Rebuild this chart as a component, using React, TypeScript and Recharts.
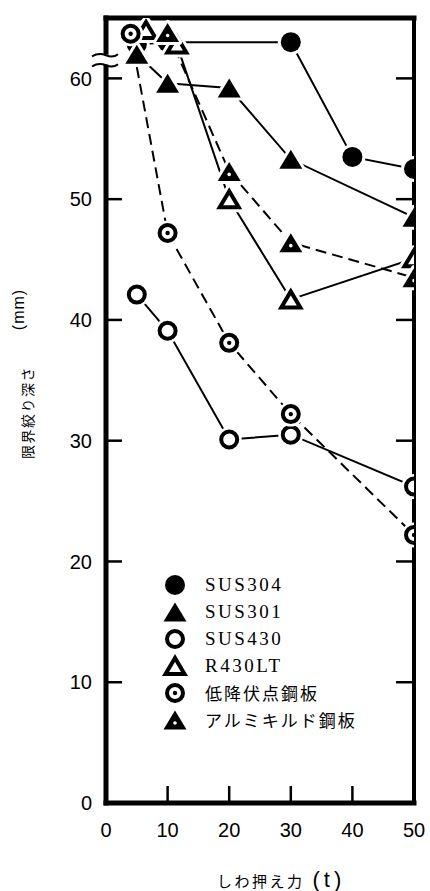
import React from 'react'
import { LineChart, Line, XAxis, YAxis, Legend, ReferenceDot } from 'recharts'

// しわ押え力 (t) vs 限界絞り深さ (mm)
const sus304 = [
  { t: 5, d: 62.8 }, { t: 10, d: 63.0 }, { t: 30, d: 63.0 }, { t: 40, d: 53.5 }, { t: 50, d: 52.5 }
]
const sus301 = [
  { t: 5, d: 62.0 }, { t: 10, d: 59.6 }, { t: 20, d: 59.2 }, { t: 30, d: 53.3 }, { t: 50, d: 48.5 }
]
const sus430 = [
  { t: 5, d: 42.1 }, { t: 10, d: 39.1 }, { t: 20, d: 30.1 }, { t: 30, d: 30.5 }, { t: 50, d: 26.2 }
]
const r430lt = [
  { t: 6.5, d: 64.0 }, { t: 11.5, d: 62.8 }, { t: 20, d: 50.0 }, { t: 30, d: 41.7 }, { t: 50, d: 45.1 }
]
const lowYield = [
  { t: 4, d: 63.7 }, { t: 10, d: 47.2 }, { t: 20, d: 38.1 }, { t: 30, d: 32.2 }, { t: 50, d: 22.2 }
]
const alKilled = [
  { t: 10, d: 63.8 }, { t: 20, d: 52.3 }, { t: 30, d: 46.4 }, { t: 50, d: 43.5 }
]

const xTicks = [0, 10, 20, 30, 40, 50]
const yTicks = [0, 10, 20, 30, 40, 50, 60]
const innerXTicks = [10, 20, 30, 40]
const innerYTicks = [10, 20, 30, 40, 50, 60]

type Kind = 'disc' | 'tri' | 'ring' | 'otri' | 'dring' | 'dtri'

const series: { name: string; data: { t: number; d: number }[]; kind: Kind; dashed: boolean; jp: boolean }[] = [
  { name: 'SUS304', data: sus304, kind: 'disc', dashed: false, jp: false },
  { name: 'SUS301', data: sus301, kind: 'tri', dashed: false, jp: false },
  { name: 'SUS430', data: sus430, kind: 'ring', dashed: false, jp: false },
  { name: 'R430LT', data: r430lt, kind: 'otri', dashed: false, jp: false },
  { name: '低降伏点鋼板', data: lowYield, kind: 'dring', dashed: true, jp: true },
  { name: 'アルミキルド鋼板', data: alKilled, kind: 'dtri', dashed: true, jp: true }
]

const triPts = (cx: number, cy: number, w: number, h: number) =>
  `${cx},${cy - h / 2} ${cx - w / 2},${cy + h / 2} ${cx + w / 2},${cy + h / 2}`

const Marker = ({ kind, cx, cy }: { kind: Kind; cx?: number; cy?: number }) => {
  if (cx == null || cy == null) return null
  switch (kind) {
    case 'disc':
      return (
        <g>
          <circle cx={cx} cy={cy} r={13} fill="#fff" />
          <circle cx={cx} cy={cy} r={10} fill="#000" />
        </g>
      )
    case 'tri':
    case 'dtri':
      return (
        <g>
          <polygon points={triPts(cx, cy, 23, 19)} fill="#fff" stroke="#fff" strokeWidth={6} strokeLinejoin="round" />
          <polygon points={triPts(cx, cy, 23, 19)} fill="#000" />
          {kind === 'dtri' && <circle cx={cx} cy={cy + 3} r={1.8} fill="#fff" />}
        </g>
      )
    case 'otri':
      return (
        <g>
          <polygon points={triPts(cx, cy, 19, 16)} fill="#fff" stroke="#fff" strokeWidth={10} strokeLinejoin="round" />
          <polygon points={triPts(cx, cy, 19, 16)} fill="#fff" stroke="#000" strokeWidth={4} />
        </g>
      )
    case 'ring':
    case 'dring':
      return (
        <g>
          <circle cx={cx} cy={cy} r={12.5} fill="#fff" />
          <circle cx={cx} cy={cy} r={8} fill="#fff" stroke="#000" strokeWidth={4} />
          {kind === 'dring' && <circle cx={cx} cy={cy} r={2.2} fill="#000" />}
        </g>
      )
  }
  return null
}

// axis break on the left axis
const BreakMark = ({ cx, cy }: any) => {
  if (cx == null || cy == null) return null
  return (
    <g>
      <path d={`M${cx - 14},${cy - 5} L${cx + 12},${cy - 6} L${cx + 12},${cy + 4} L${cx - 14},${cy + 5} Z`} fill="#fff" />
      <path d={`M${cx - 14},${cy - 4} Q${cx - 7},${cy - 8} ${cx},${cy - 5} T${cx + 12},${cy - 6}`} stroke="#000" strokeWidth={2} fill="none" />
      <path d={`M${cx - 14},${cy + 6} Q${cx - 7},${cy + 2} ${cx},${cy + 5} T${cx + 12},${cy + 4}`} stroke="#000" strokeWidth={2} fill="none" />
    </g>
  )
}

// tick renderers: inward tick marks + labels
const TICK_W = 2.5
const BOTTOM_GAP = 20
const LEFT_GAP = 14

const BottomTick = (p: any) => {
  const v = p.payload?.value
  return (
    <g>
      {v > 0 && v < 50 && (
        <line x1={p.x} x2={p.x} y1={p.y - BOTTOM_GAP} y2={p.y - BOTTOM_GAP - 17} stroke="#000" strokeWidth={TICK_W} />
      )}
      <text x={p.x} y={p.y} dy="0.71em" textAnchor="middle" fill="#000" fontSize={20} fontFamily="Liberation Sans">
        {v}
      </text>
    </g>
  )
}

const LeftTick = (p: any) => {
  const v = p.payload?.value
  return (
    <g>
      {v > 0 && (
        <line x1={p.x + LEFT_GAP} x2={p.x + LEFT_GAP + 16} y1={p.y} y2={p.y} stroke="#000" strokeWidth={TICK_W} />
      )}
      <text x={p.x} y={p.y} dy="0.36em" textAnchor="end" fill="#000" fontSize={20} fontFamily="Liberation Sans">
        {v}
      </text>
    </g>
  )
}

const TopTick = (p: any) => (
  <line x1={p.x} x2={p.x} y1={p.y} y2={p.y + 17} stroke="#000" strokeWidth={TICK_W} />
)

const RightTick = (p: any) => (
  <line x1={p.x - 18} x2={p.x} y1={p.y} y2={p.y} stroke="#000" strokeWidth={TICK_W} />
)

const YTitle = (props: any) => {
  const vb = props.viewBox || { x: 0, y: 18, width: 106, height: 785 }
  const mid = vb.y + vb.height / 2
  const jy = mid + 2
  const my = mid - 101
  return (
    <g>
      <text x={vb.x + 27} y={jy} transform={`rotate(-90 ${vb.x + 27} ${jy})`} textAnchor="middle"
        dominantBaseline="central" fontFamily="Noto Sans CJK JP" fontSize={14} letterSpacing={1.5} fill="#000">
        限界絞り深さ
      </text>
      <text x={vb.x + 18} y={my} transform={`rotate(-90 ${vb.x + 18} ${my})`} textAnchor="middle"
        dominantBaseline="central" fontFamily="Liberation Sans" fontSize={16} letterSpacing={1} fill="#000">
        (mm)
      </text>
    </g>
  )
}

const XTitle = (props: any) => {
  const vb = props.viewBox || { x: 106, y: 803, width: 308, height: 88 }
  return (
    <text x={vb.x + vb.width / 2 - 43} y={vb.y + 84} fill="#000">
      <tspan fontFamily="Noto Sans CJK JP" fontSize={15} letterSpacing={2.5}>しわ押え力</tspan>
      <tspan dx={8} fontFamily="Liberation Sans" fontSize={22} letterSpacing={4}>(t)</tspan>
    </text>
  )
}

const renderLegend = () => (
  <div>
    {series.map(s => (
      <div key={s.name} style={{ display: 'flex', alignItems: 'center', height: 27 }}>
        <svg width={26} height={26}>
          <Marker kind={s.kind} cx={13} cy={13} />
        </svg>
        <span
          style={{
            marginLeft: 17,
            fontFamily: s.jp ? 'Noto Sans CJK JP' : 'Liberation Serif',
            fontSize: s.jp ? 17 : 19,
            letterSpacing: s.jp ? 2 : 2.5,
            color: '#000',
            lineHeight: '27px'
          }}
        >
          {s.name}
        </span>
      </div>
    ))}
  </div>
)

const axisLine = { stroke: '#000', strokeWidth: 5, strokeLinecap: 'square' as const }

export default function App() {
  return (
    <div style={{ position: 'absolute', left: 0, top: 0, width: 430, height: 891, background: '#fff' }}>
      <LineChart width={430} height={891} margin={{ top: 8, right: 0, bottom: 0, left: 0 }}>
        <XAxis
          dataKey="t"
          type="number"
          domain={[0, 50]}
          ticks={xTicks}
          allowDataOverflow
          height={88}
          axisLine={axisLine}
          tickLine={false}
          tickSize={0}
          tickMargin={BOTTOM_GAP}
          tick={BottomTick}
          label={XTitle}
        />
        <XAxis
          xAxisId="top"
          orientation="top"
          type="number"
          domain={[0, 50]}
          ticks={innerXTicks}
          allowDataOverflow
          height={10}
          axisLine={axisLine}
          tickLine={false}
          tickSize={0}
          tickMargin={0}
          tick={TopTick}
        />
        <YAxis
          type="number"
          domain={[0, 65]}
          ticks={yTicks}
          allowDataOverflow
          width={106}
          axisLine={axisLine}
          tickLine={false}
          tickSize={0}
          tickMargin={LEFT_GAP}
          tick={LeftTick}
          label={YTitle}
        />
        <YAxis
          yAxisId="right"
          orientation="right"
          type="number"
          domain={[0, 65]}
          ticks={innerYTicks}
          allowDataOverflow
          width={16}
          axisLine={{ ...axisLine, strokeWidth: 4 }}
          tickLine={false}
          tickSize={0}
          tickMargin={0}
          tick={RightTick}
        />
        <ReferenceDot x={0} y={61.5} r={0} ifOverflow="visible" shape={BreakMark} />
        {series.map(s => (
          <Line
            key={s.name}
            name={s.name}
            data={s.data}
            dataKey="d"
            stroke="#000"
            strokeWidth={2}
            strokeDasharray={s.dashed ? '11 6' : undefined}
            isAnimationActive={false}
            activeDot={false}
            dot={(p: any) => <Marker key={`${s.name}-${p.index}`} kind={s.kind} cx={p.cx} cy={p.cy} />}
          />
        ))}
        <Legend
          layout="vertical"
          align="center"
          verticalAlign="middle"
          content={renderLegend}
          wrapperStyle={{ left: 162, top: 571, width: 240 }}
        />
      </LineChart>
    </div>
  )
}
